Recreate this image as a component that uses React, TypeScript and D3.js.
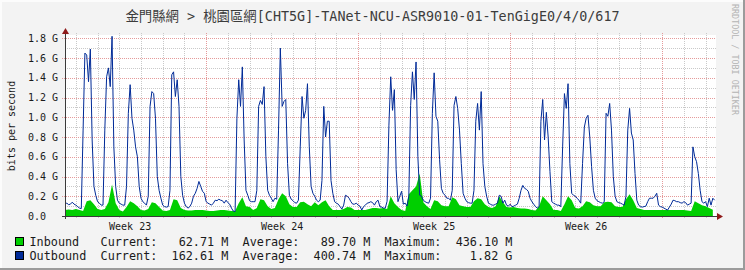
import React from "react";
import * as d3 from "d3";

const TITLE = "金門縣網 > 桃園區網[CHT5G]-TANet-NCU-ASR9010-01-TenGigE0/4/0/617";
const Y_LABEL = "bits per second";
const WATERMARK = "RRDTOOL / TOBI OETIKER";

// time: start of graph (UTC) and span in hours
const START_MS = Date.UTC(2024, 5, 3, 12, 0, 0);
const SPAN_HOURS = 718.4;
const OUT_STEP_HOURS = 2;
const IN_STEP_HOURS = 4;

// Outbound (G bits/s), one value every 2 hours
const outbound = [
  0.12, 0.13, 0.115, 0.12, 0.14, 0.12, 0.11, 0.095, 0.08, 0.075,
  0.87, 1.65, 1.63, 1.36, 1.69, 0.77, 0.3, 0.21, 0.145, 0.13,
  0.11, 0.11, 0.87, 1.41, 1.5, 1.31, 1.82, 0.7, 0.3, 0.16,
  0.13, 0.12, 0.11, 0.11, 0.3, 1.04, 1.33, 0.99, 0.87, 0.7,
  0.6, 0.3, 0.18, 0.145, 0.13, 0.11, 0.2, 1.11, 1.26, 1.24,
  0.99, 0.4, 0.26, 0.18, 0.11, 0.095, 0.09, 0.095, 0.26, 1.43,
  1.46, 1.21, 1.38, 1.11, 0.4, 0.21, 0.13, 0.095, 0.08, 0.095,
  0.13, 0.2, 0.23, 0.28, 0.35, 0.3, 0.25, 0.23, 0.145, 0.13,
  0.12, 0.11, 0.13, 0.16, 0.155, 0.17, 0.16, 0.155, 0.13, 0.16,
  0.135, 0.12, 0.08, 0.05, 0.045, 0.99, 1.38, 1.11, 1.51, 0.77,
  0.26, 0.21, 0.155, 0.145, 0.145, 0.145, 0.26, 1.11, 1.17, 1.13,
  1.31, 0.6, 0.26, 0.21, 0.18, 0.145, 0.18, 0.17, 0.87, 1.7,
  1.11, 1.16, 1.18, 0.53, 0.21, 0.17, 0.155, 0.135, 0.13, 0.16,
  0.7, 1.21, 0.99, 1.07, 1.34, 0.7, 0.3, 0.23, 0.2, 0.16,
  0.145, 0.16, 0.36, 1.11, 0.8, 0.96, 0.96, 0.36, 0.23, 0.145,
  0.13, 0.12, 0.095, 0.07, 0.11, 0.21, 0.2, 0.18, 0.145, 0.12,
  0.12, 0.13, 0.11, 0.1, 0.06, 0.095, 0.11, 0.13, 0.135, 0.145,
  0.135, 0.11, 0.145, 0.16, 0.095, 0.09, 0.08, 0.08, 0.15, 0.92,
  1.41, 1.07, 1.28, 0.47, 0.145, 0.2, 0.25, 0.12, 0.13, 0.1,
  0.2, 1.12, 1.46, 1.18, 1.56, 0.6, 0.21, 0.2, 0.16, 0.145,
  0.135, 0.13, 0.18, 1.04, 1.45, 1.01, 0.96, 0.57, 0.28, 0.23,
  0.21, 0.18, 0.18, 0.16, 0.26, 1.12, 1.21, 1.09, 0.87, 0.53,
  0.23, 0.18, 0.145, 0.135, 0.13, 0.13, 0.26, 0.96, 1.14, 0.87,
  1.26, 0.53, 0.3, 0.2, 0.13, 0.12, 0.11, 0.11, 0.12, 0.13,
  0.21, 0.2, 0.13, 0.16, 0.11, 0.1, 0.12, 0.095, 0.1, 0.11,
  0.12, 0.18, 0.26, 0.31, 0.28, 0.27, 0.25, 0.18, 0.145, 0.12,
  0.095, 0.08, 0.095, 0.96, 1.18, 0.77, 1.05, 0.8, 0.45, 0.145,
  0.13, 0.12, 0.11, 0.11, 0.095, 0.7, 1.24, 1.09, 1.34, 0.53,
  0.23, 0.21, 0.2, 0.18, 0.16, 0.13, 0.53, 0.9, 0.99, 1.02,
  0.8, 0.5, 0.26, 0.18, 0.155, 0.145, 0.135, 0.13, 0.145, 1.04,
  1.01, 1.14, 0.87, 0.4, 0.2, 0.145, 0.135, 0.13, 0.12, 0.11,
  0.2, 0.87, 1.09, 0.84, 0.77, 0.43, 0.16, 0.11, 0.095, 0.09,
  0.095, 0.1, 0.145, 0.18, 0.18, 0.18, 0.2, 0.23, 0.11, 0.095,
  0.09, 0.08, 0.07, 0.06, 0.09, 0.12, 0.16, 0.155, 0.145, 0.145,
  0.135, 0.13, 0.145, 0.135, 0.11, 0.12, 0.13, 0.7, 0.6, 0.55,
  0.43, 0.26, 0.145, 0.13, 0.145, 0.095, 0.18, 0.11, 0.18, 0.16,
];

// Inbound (G bits/s), one value every 4 hours
const inbound = [
  0.06, 0.065, 0.06, 0.07, 0.06, 0.05, 0.15, 0.16, 0.12, 0.07,
  0.06, 0.07, 0.14, 0.32, 0.13, 0.06, 0.045, 0.09, 0.15, 0.13,
  0.1, 0.06, 0.055, 0.07, 0.14, 0.13, 0.09, 0.055, 0.05, 0.06,
  0.17, 0.16, 0.08, 0.06, 0.055, 0.055, 0.06, 0.06, 0.06, 0.055,
  0.05, 0.05, 0.055, 0.06, 0.06, 0.055, 0.05, 0.05, 0.13, 0.19,
  0.1, 0.09, 0.06, 0.08, 0.17, 0.16, 0.1, 0.07, 0.08, 0.17,
  0.23, 0.2, 0.12, 0.09, 0.09, 0.14, 0.145, 0.12, 0.1, 0.14,
  0.11, 0.14, 0.16, 0.1, 0.06, 0.06, 0.06, 0.07, 0.09, 0.085,
  0.06, 0.06, 0.06, 0.06, 0.07, 0.08, 0.08, 0.075, 0.08, 0.07,
  0.2, 0.13, 0.09, 0.06, 0.05, 0.22, 0.26, 0.3, 0.43, 0.14,
  0.1, 0.07, 0.16, 0.15, 0.11, 0.1, 0.1, 0.19, 0.17, 0.11,
  0.1, 0.09, 0.09, 0.15, 0.18, 0.17, 0.12, 0.09, 0.08, 0.1,
  0.2, 0.14, 0.09, 0.085, 0.09, 0.08, 0.075, 0.075, 0.07, 0.06,
  0.055, 0.1, 0.2, 0.16, 0.12, 0.06, 0.06, 0.05, 0.12, 0.2,
  0.16, 0.08, 0.075, 0.1, 0.15, 0.14, 0.11, 0.1, 0.1, 0.14,
  0.145, 0.14, 0.1, 0.09, 0.09, 0.17, 0.22, 0.16, 0.08, 0.07,
  0.06, 0.06, 0.06, 0.06, 0.06, 0.06, 0.06, 0.06, 0.06, 0.06,
  0.06, 0.06, 0.055, 0.05, 0.15, 0.13, 0.11, 0.1, 0.08, 0.063,
];

const yMajorTicks = [0, 0.2, 0.4, 0.6, 0.8, 1.0, 1.2, 1.4, 1.6, 1.8];
const yMinorTicks = [0.1, 0.3, 0.5, 0.7, 0.9, 1.1, 1.3, 1.5, 1.7];
const Y_MAX = 1.823;

const legendNames = ["Inbound", "Outbound"];
const legendColors = ["#00CF00", "#002A97"];
const legendCurrent = ["62.71 M", "162.61 M"];
const legendAverage = ["89.70 M", "400.74 M"];
const legendMaximum = ["436.10 M", "1.82 G"];

const MONO = "'DejaVu Sans Mono', monospace";

export default function App() {
  const W = 745, H = 270;
  const left = 65, right = 715, top = 36, bottom = 216;
  const start = new Date(START_MS);
  const end = new Date(START_MS + SPAN_HOURS * 3600e3);
  const x = d3.scaleUtc().domain([start, end]).range([left, right]);
  const y = d3.scaleLinear().domain([0, Y_MAX]).range([bottom, top]);

  const outPts = outbound.map((v, i) => ({ t: new Date(START_MS + i * OUT_STEP_HOURS * 3600e3), v }));
  const inPts = inbound.map((v, i) => ({ t: new Date(START_MS + i * IN_STEP_HOURS * 3600e3), v }));

  const areaGen = d3.area<any>().x(d => x(d.t)).y0(y(0)).y1(d => y(d.v));
  const lineGen = d3.line<any>().x(d => x(d.t)).y(d => y(d.v));

  const days = d3.utcDay.range(d3.utcDay.ceil(start), end);
  const mondays = d3.utcMonday.range(d3.utcMonday.ceil(start), end);
  const isMonday = (d: Date) => d.getUTCDay() === 1;
  const weekStarts = d3.utcMonday.range(d3.utcMonday.floor(start), end);
  const fmtWeek = d3.utcFormat("Week %V");

  const canvasRight = 716;
  const minorColor = "#c9c9c9";
  const majorColor = "#e59a9a";
  const px = (v: number) => Math.round(v) + 0.5;

  const pad = (s: string, n: number) => s.padStart(n, " ");
  const legendLines = legendNames.map((name, i) =>
    name.padEnd(10, " ") +
    "Current:" + pad(legendCurrent[i], 10) + "  " +
    "Average:" + pad(legendAverage[i], 10) + "  " +
    "Maximum:" + pad(legendMaximum[i], 10)
  );

  return (
    <svg width={W} height={H} style={{ display: "block", position: "absolute", left: 0, top: 0 }}>
      <rect x={0} y={0} width={W} height={H} fill="#f3f3f3" />
      <rect x={0} y={0} width={W} height={2} fill="#fcfcfc" />
      <rect x={0} y={0} width={2} height={H} fill="#fcfcfc" />
      <rect x={0} y={H - 2} width={W} height={2} fill="#9b9b9b" />
      <rect x={W - 2} y={0} width={2} height={H} fill="#9b9b9b" />

      <text x={372.5} y={20.5} textAnchor="middle" fontFamily={"'DejaVu Sans Mono', 'Noto Sans CJK TC', monospace"} fontSize={13.4} fill="#3c3c3c">{TITLE}</text>

      <text transform="translate(732,4) rotate(90)" fontFamily={MONO} fontSize={8.4} fill="#b4b4b4">{WATERMARK}</text>

      <rect x={left} y={top - 1} width={canvasRight - left} height={bottom - top + 1} fill="#ffffff" />

      <g shapeRendering="crispEdges" strokeWidth={1} strokeDasharray="1,1">
        {yMinorTicks.map(v => (
          <line key={"hm" + v} x1={left} x2={canvasRight} y1={px(y(v))} y2={px(y(v))} stroke={minorColor} />
        ))}
        {days.filter(d => !isMonday(d)).map(d => (
          <line key={"vm" + +d} x1={px(x(d))} x2={px(x(d))} y1={33} y2={bottom + 3} stroke={minorColor} />
        ))}
        {yMajorTicks.filter(v => v > 0).map(v => (
          <line key={"hM" + v} x1={left - 3} x2={canvasRight} y1={px(y(v))} y2={px(y(v))} stroke={majorColor} />
        ))}
        {mondays.map(d => (
          <line key={"vM" + +d} x1={px(x(d))} x2={px(x(d))} y1={33} y2={bottom + 3} stroke={majorColor} />
        ))}
      </g>

      <path d={areaGen(inPts) || ""} fill="#00CF00" />
      <path d={lineGen(outPts) || ""} fill="none" stroke="#002A97" strokeWidth={1} />

      <g shapeRendering="crispEdges">
        <line x1={left - 3} x2={canvasRight + 1} y1={bottom + 0.5} y2={bottom + 0.5} stroke="#3a3a3a" />
        <line x1={left + 0.5} x2={left + 0.5} y1={bottom + 3} y2={top - 2} stroke="#3a3a3a" />
      </g>
      <path d={`M${left - 3},${top - 2} L${left + 0.5},${top - 8} L${left + 4},${top - 2} Z`} fill="#8f1a1a" />
      <path d={`M${canvasRight + 1},${bottom - 3} L${canvasRight + 7},${bottom + 0.5} L${canvasRight + 1},${bottom + 4} Z`} fill="#8f1a1a" />

      <g fontFamily={MONO} fontSize={10} fill="#1a1a1a">
        {yMajorTicks.map(v => (
          <text key={"yl" + v} x={58} y={y(v) + 3.7} textAnchor="end" style={{ whiteSpace: "pre" }}>
            {v === 0 ? "0.0  " : v.toFixed(1) + " G"}
          </text>
        ))}
        {weekStarts.map(d => {
          const mid = new Date(+d + 3.5 * 86400e3);
          if (mid < start || mid > end) return null;
          return (
            <text key={"wk" + +d} x={x(mid)} y={229.5} textAnchor="middle">{fmtWeek(d)}</text>
          );
        })}
        <text transform="translate(15,126) rotate(-90)" textAnchor="middle">{Y_LABEL}</text>
      </g>

      <g fontFamily={MONO} fontSize={11.8} fill="#1a1a1a">
        {legendLines.map((s, i) => (
          <g key={"lg" + i}>
            <rect x={15.5} y={237.5 + i * 14} width={8} height={8} fill={legendColors[i]} stroke="#000" />
            <text x={29.5} y={245.8 + i * 14} style={{ whiteSpace: "pre" }}>{s}</text>
          </g>
        ))}
      </g>
    </svg>
  );
}
